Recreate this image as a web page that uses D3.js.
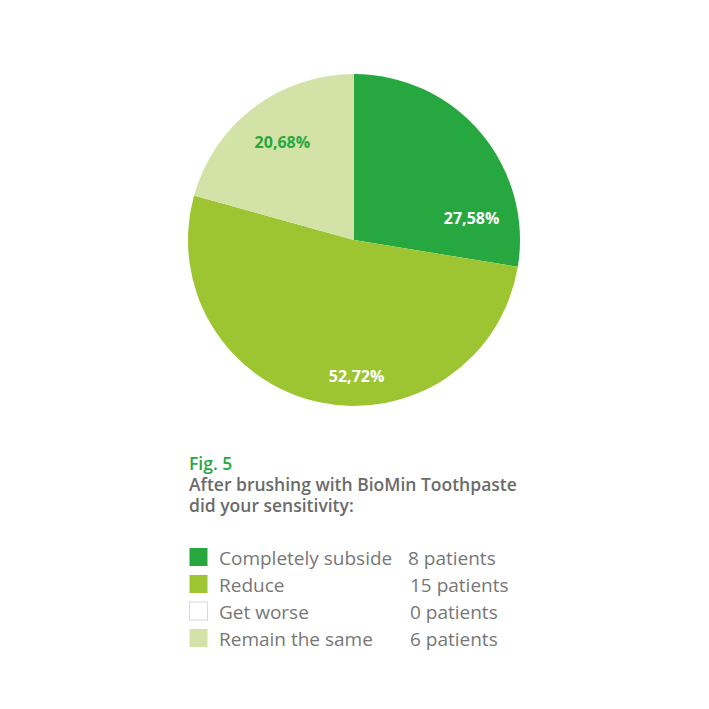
<!DOCTYPE html>
<html><head><meta charset="utf-8">
<script src="https://cdn.jsdelivr.net/npm/d3@7"></script>
<style>html,body{margin:0;padding:0;background:#fff;}svg{display:block;font-family:"Open Sans",sans-serif;}</style>
</head><body>
<svg id="c" width="709" height="709"></svg>
<script>
const categories = ["Completely subside", "Reduce", "Get worse", "Remain the same"];
const patients = [8, 15, 0, 6];
const patientLabels = ["8 patients", "15 patients", "0 patients", "6 patients"];
const pctLabels = ["27,58%", "52,72%", "", "20,68%"];
const colors = ["#27a73f", "#9dc532", "#ffffff", "#d3e2a6"];
const labelColors = ["#ffffff", "#ffffff", "#ffffff", "#27a73f"];

const svg = d3.select("#c");
const cx = 354, cy = 240, R = 166;
const g = svg.append("g").attr("transform", `translate(${cx},${cy})`);
const pie = d3.pie().sort(null).value(d => d.v);
const data = categories.map((c, i) => ({c, v: patients[i], i}));
const arcs = pie(data);
const arc = d3.arc().innerRadius(0).outerRadius(R);
g.selectAll("path").data(arcs.filter(a => a.data.v > 0)).enter().append("path")
  .attr("d", arc).attr("fill", d => colors[d.data.i]);

// label placement (angle offset from slice midpoint in degrees, radius fraction)
const labelPlace = {0: [30, 0.72], 1: [-13.5, 0.82], 3: [1, 0.73]};
arcs.forEach(a => {
  const p = labelPlace[a.data.i];
  if (!p) return;
  const mid = (a.startAngle + a.endAngle) / 2 + p[0] * Math.PI / 180;
  const r = R * p[1];
  g.append("text").attr("x", Math.sin(mid) * r).attr("y", -Math.cos(mid) * r)
    .attr("text-anchor", "middle").attr("dy", "0.35em")
    .attr("font-size", 16).attr("font-weight", 700)
    .attr("fill", labelColors[a.data.i]).text(pctLabels[a.data.i]);
});

svg.append("text").attr("x", 189).attr("y", 470).attr("font-size", 17.5).attr("font-weight", 600)
  .attr("fill", "#27a73f").text("Fig. 5");
svg.append("text").attr("x", 189).attr("y", 491).attr("font-size", 17.5).attr("font-weight", 600)
  .attr("fill", "#6b6b6b").text("After brushing with BioMin Toothpaste");
svg.append("text").attr("x", 189).attr("y", 512).attr("font-size", 17.5).attr("font-weight", 600)
  .attr("fill", "#6b6b6b").text("did your sensitivity:");

const y = d3.scalePoint().domain(categories).range([558, 639]);
const lg = svg.append("g");
categories.forEach((c, i) => {
  const yy = y(c);
  lg.append("rect").attr("x", 189.5).attr("y", yy - 10).attr("width", 18).attr("height", 18)
    .attr("fill", colors[i]).attr("stroke", i === 2 ? "#d8d8d8" : "none");
  lg.append("text").attr("x", 219).attr("y", yy + 7).attr("font-size", 19).attr("fill", "#777")
    .text(c);
  lg.append("text").attr("x", i === 0 ? 408 : 410).attr("y", yy + 7).attr("font-size", 19).attr("fill", "#777")
    .text(patientLabels[i]);
});
</script>
</body></html>
